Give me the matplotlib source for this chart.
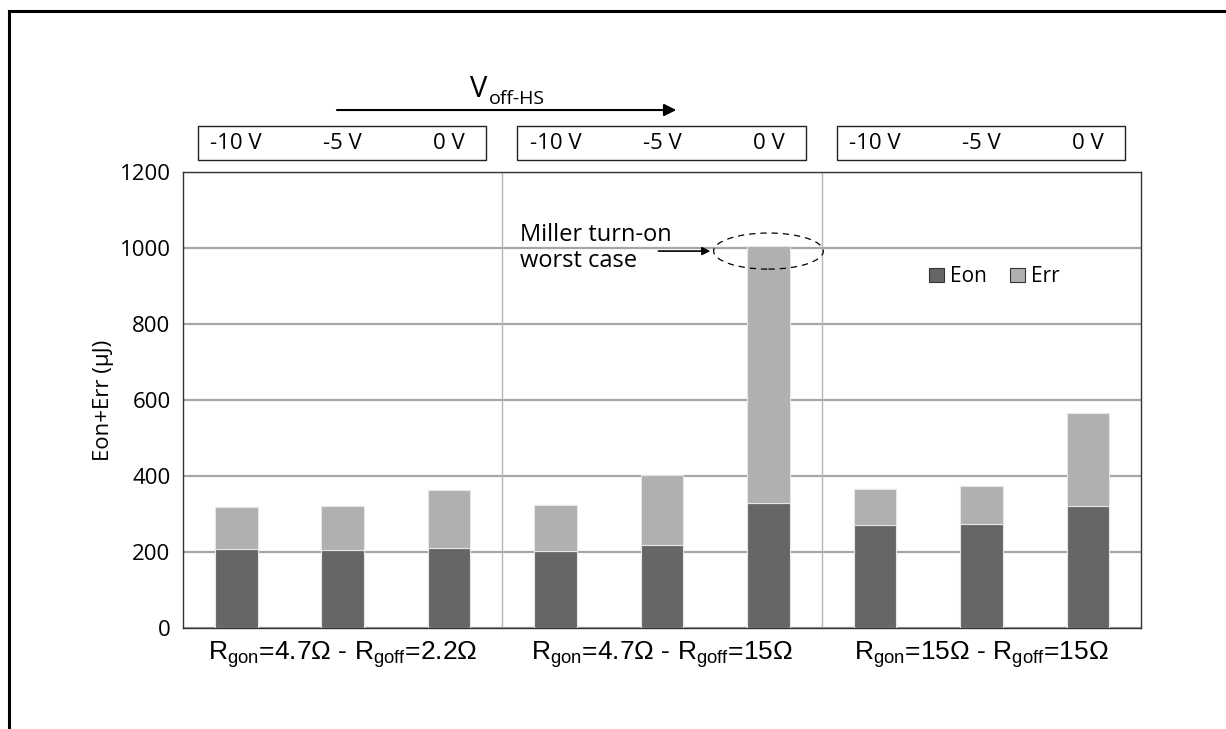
import matplotlib
matplotlib.use("Agg")
import matplotlib.pyplot as plt
from matplotlib.patches import Rectangle, Ellipse, Patch
from matplotlib.lines import Line2D
from matplotlib import transforms

plt.rcParams['font.family'] = ['Open Sans', 'DejaVu Sans']
plt.rcParams['mathtext.fontset'] = 'custom'
plt.rcParams['mathtext.rm'] = 'Liberation Sans'
plt.rcParams['mathtext.it'] = 'Liberation Sans'

# switching energy per test point (uJ)
eon = [208, 206, 211, 203, 218, 328, 272, 274, 322]
err = [111, 114, 152, 120, 186, 677, 94, 100, 243]
voff_labels = ['-10 V', '-5 V', '0 V']
group_labels = ['R$_\\mathrm{gon}$=4.7Ω - R$_\\mathrm{goff}$=2.2Ω',
                'R$_\\mathrm{gon}$=4.7Ω - R$_\\mathrm{goff}$=15Ω',
                'R$_\\mathrm{gon}$=15Ω - R$_\\mathrm{goff}$=15Ω']

c_eon = '#666666'
c_err = '#b0b0b0'

fig = plt.figure(figsize=(12.26, 7.29), dpi=100)
ax = fig.add_axes([0.1493, 0.1385, 0.7814, 0.6255])

x = [i + 0.5 for i in range(len(eon))]
ax.bar(x, eon, width=0.4, color=c_eon, edgecolor='#e6e6e6', linewidth=0.8, zorder=3)
ax.bar(x, err, width=0.4, bottom=eon, color=c_err, edgecolor='#e6e6e6', linewidth=0.8, zorder=3)

ax.set_xlim(0, 9)
ax.set_ylim(0, 1200)
ax.set_yticks(range(0, 1201, 200))
ax.set_xticks([])
ax.tick_params(axis='y', length=0, pad=9, labelsize=16)
ax.yaxis.grid(True, color='#a6a6a6', linewidth=1.6, zorder=0)
ax.set_axisbelow(True)
for s in ax.spines.values():
    s.set_color('#333333')
    s.set_linewidth(1.0)
for xs in (3, 6):
    ax.axvline(xs, color='#b4b4b4', linewidth=1.0, zorder=1)

ax.set_ylabel('Eon+Err (µJ)', fontsize=16, labelpad=4)

trans = transforms.blended_transform_factory(ax.transData, ax.transAxes)

# voltage boxes above each group
for g in range(3):
    ax.add_patch(Rectangle((3 * g + 0.14, 1.026), 2.71, 0.075, transform=trans,
                           facecolor='white', edgecolor='#222222', linewidth=1.0,
                           clip_on=False))
    for k, lab in enumerate(voff_labels):
        ax.text(3 * g + k + 0.5, 1.0636, lab, transform=trans, ha='center',
                va='center', fontsize=16)
    ax.text(3 * g + 1.5, -0.059, group_labels[g], transform=trans, ha='center',
            va='center', fontsize=19, family='Liberation Sans')

# V_off-HS direction arrow
ax.annotate('', xy=(4.66, 1.136), xytext=(1.42, 1.136), xycoords=trans,
            textcoords=trans, arrowprops=dict(arrowstyle='-|>', color='black',
                                              lw=1.5, mutation_scale=18),
            annotation_clip=False)
ax.text(2.86, 1.18, 'V', transform=trans, ha='right', va='center', fontsize=21)
ax.text(2.87, 1.16, 'off-HS', transform=trans, ha='left', va='center', fontsize=14)

# worst case marker
ax.add_patch(Ellipse((5.5, 992), 1.03, 95, fill=False, edgecolor='black',
                     linestyle=(0, (5, 4)), linewidth=0.9, zorder=5))
ax.annotate('', xy=(4.98, 992), xytext=(4.44, 992),
            arrowprops=dict(arrowstyle='-|>', color='black', lw=1.2,
                            mutation_scale=12), zorder=5)
ax.text(3.17, 1000, 'Miller turn-on\nworst case', ha='left', va='center',
        fontsize=17, linespacing=1.1, zorder=5)

handles = [Patch(facecolor=c_eon, edgecolor='#333333', linewidth=0.8, label='Eon'),
           Patch(facecolor=c_err, edgecolor='#333333', linewidth=0.8, label='Err')]
ax.legend(handles=handles, ncol=2, frameon=False, fontsize=15,
          loc='center', bbox_to_anchor=(0.847, 0.77), handlelength=0.7,
          handleheight=0.7, handletextpad=0.3, columnspacing=1.1)

# page frame
fig.add_artist(Line2D([9 / 1226, 1.0], [1 - 11 / 729, 1 - 11 / 729],
                      color='black', linewidth=2.2, transform=fig.transFigure))
fig.add_artist(Line2D([9 / 1226, 9 / 1226], [0, 1 - 11 / 729],
                      color='black', linewidth=2.2, transform=fig.transFigure))

fig.savefig('out.png', dpi=100)
